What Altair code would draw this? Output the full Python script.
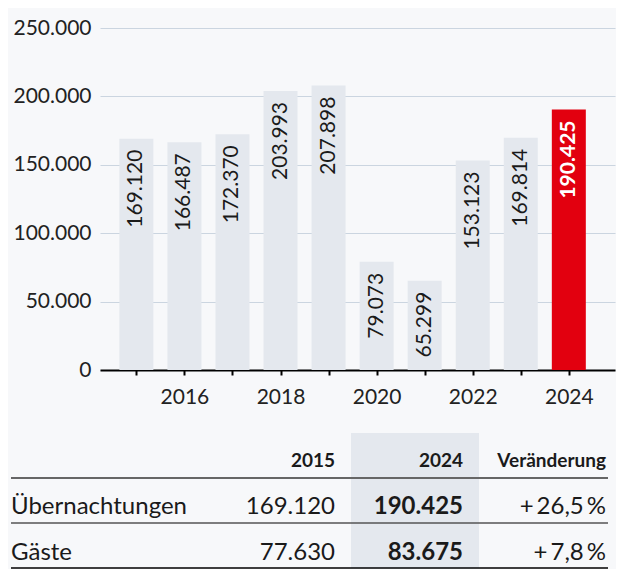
import altair as alt
import pandas as pd

FONT = "Lato"

# ---- data ----
years = [2015, 2016, 2017, 2018, 2019, 2020, 2021, 2022, 2023, 2024]
overnight_stays = [169120, 166487, 172370, 203993, 207898, 79073, 65299, 153123, 169814, 190425]
highlight_year = 2024

table_rows = ["Übernachtungen", "Gäste"]
table_2015 = [169120, 77630]
table_2024 = [190425, 83675]
table_change = [26.5, 7.8]
table_header = ["2015", "2024", "Veränderung"]

y_ticks = [0, 50000, 100000, 150000, 200000, 250000]


def de_int(v):
    return f"{v:,}".replace(",", ".")


def de_pct(v):
    return "+\u2009" + f"{v:.1f}".replace(".", ",") + "\u2009%"


bars_df = pd.DataFrame({
    "year": years,
    "value": overnight_stays,
    "kind": ["hl" if y == highlight_year else "normal" for y in years],
})

BAR_COL = "#e4e8ee"
RED = "#e2000f"
TXT = "#1a1a1a"

x_scale = alt.Scale(domain=[2014.347, 2024.857], nice=False, zero=False)
y_scale = alt.Scale(domain=[0, 250000], range=[342, 0], nice=False)

base = alt.Chart(bars_df).encode(
    x=alt.X(
        "year:Q",
        scale=x_scale,
        axis=alt.Axis(
            values=years, format="d",
            labelExpr="datum.value % 2 == 0 ? datum.label : ''",
            title=None, grid=False, domain=True, domainColor="#000000",
            domainWidth=2, ticks=True, tickColor="#000000", tickWidth=2,
            tickSize=5, labelFontSize=21, labelFont=FONT, labelColor="#222222",
            labelPadding=11, offset=-198, labelFlush=False, labelOverlap=False,
        ),
    ),
    y=alt.Y(
        "value:Q",
        scale=y_scale,
        axis=alt.Axis(
            values=y_ticks,
            labelExpr="replace(format(datum.value, ','), ',', '.')",
            title=None, domain=False, ticks=False, grid=True,
            gridColor="#cbd5e0", gridWidth=1, labelFontSize=21,
            labelFont=FONT, labelColor="#222222", labelPadding=9,
        ),
    ),
)

bars = base.mark_bar(size=34).encode(
    color=alt.Color("kind:N", scale=alt.Scale(domain=["normal", "hl"], range=[BAR_COL, RED]), legend=None)
)

lbl_expr = "replace(format(datum.value, ','), ',', '.')"
labels_normal = base.transform_filter("datum.kind == 'normal'").transform_calculate(
    lbl=lbl_expr
).mark_text(angle=270, align="right", baseline="middle", dx=-11, fontSize=21,
            font=FONT, color=TXT).encode(text="lbl:N")
labels_hl = base.transform_filter("datum.kind == 'hl'").transform_calculate(
    lbl=lbl_expr
).mark_text(angle=270, align="right", baseline="middle", dx=-11, fontSize=21,
            font=FONT, fontWeight="bold", color="#ffffff").encode(text="lbl:N")

bar_chart = alt.layer(bars, labels_normal, labels_hl)

# ---- table ----
row_order = ["header"] + table_rows
recs = []
for h, col in zip(table_header, ["c2015", "c2024", "chg"]):
    recs.append({"row": "header", "col": col, "txt": h})
for r, a, b, c in zip(table_rows, table_2015, table_2024, table_change):
    recs.append({"row": r, "col": "label", "txt": r})
    recs.append({"row": r, "col": "c2015", "txt": de_int(a)})
    recs.append({"row": r, "col": "c2024", "txt": de_int(b)})
    recs.append({"row": r, "col": "chg", "txt": de_pct(c)})
tbl_df = pd.DataFrame(recs)

row_scale = alt.Scale(type="point", domain=row_order, range=[433, 525], padding=0)
tbase = alt.Chart(tbl_df).encode(
    y=alt.Y("row:N", scale=row_scale, axis=None),
    text="txt:N",
)

col_x = {"label": -89, "c2015": 235, "c2024": 363, "chg": 506}


def body_layer(col, align, bold):
    return tbase.transform_filter(
        f"datum.row != 'header' && datum.col == '{col}'"
    ).mark_text(align=align, baseline="middle", fontSize=24, font=FONT,
                fontWeight="bold" if bold else "normal", color=TXT).encode(
        x=alt.value(col_x[col])
    )


def header_layer(col):
    return tbase.transform_filter(
        f"datum.row == 'header' && datum.col == '{col}'"
    ).mark_text(align="right", baseline="middle", fontSize=19, font=FONT,
                fontWeight="bold", color=TXT).encode(x=alt.value(col_x[col]))


dummy = alt.Data(values=[{"a": 0}])
shade = alt.Chart(dummy).mark_rect(color=BAR_COL).encode(
    x=alt.value(251), x2=alt.value(379), y=alt.value(405), y2=alt.value(540)
)
rule_head = alt.Chart(dummy).mark_rule(color="#666666", strokeWidth=2).encode(
    x=alt.value(-89), x2=alt.value(508), y=alt.value(450)
)
rule_mid = alt.Chart(dummy).mark_rule(color="#555555", strokeWidth=1.5).encode(
    x=alt.value(-89), x2=alt.value(508), y=alt.value(495)
)
rule_bot = alt.Chart(dummy).mark_rule(color="#000000", strokeWidth=1.5).encode(
    x=alt.value(-89), x2=alt.value(508), y=alt.value(540)
)

table_chart = alt.layer(
    shade, rule_head, rule_mid, rule_bot,
    header_layer("c2015"), header_layer("c2024"), header_layer("chg"),
    body_layer("label", "left", False),
    body_layer("c2015", "right", False),
    body_layer("c2024", "right", True),
    body_layer("chg", "right", False),
)

chart = alt.layer(table_chart, bar_chart).resolve_scale(
    x="independent", y="independent", color="independent"
).properties(
    width=515, height=540,
    autosize=alt.AutoSizeParams(type="none"),
    padding={"left": 92, "top": 20, "right": 1, "bottom": 1},
    background="#f7f8fa",
).configure_view(stroke=None)

chart.save("out.html", embed_options={"renderer": "svg", "actions": False})
